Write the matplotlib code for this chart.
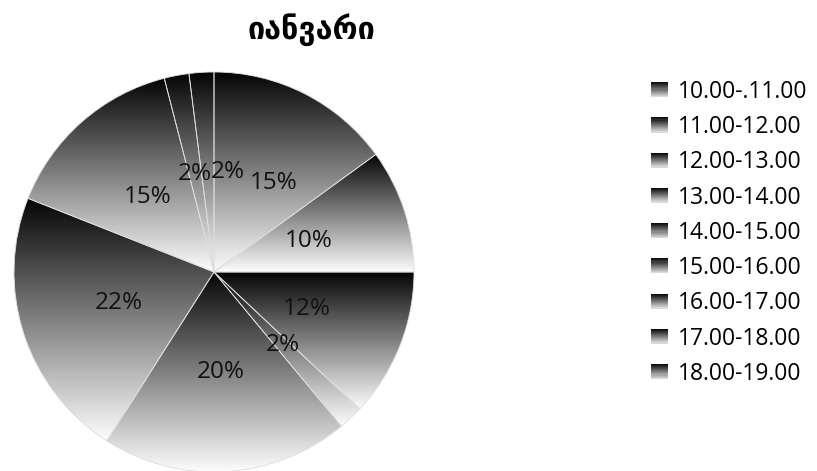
import matplotlib
matplotlib.use('Agg')
import matplotlib.pyplot as plt
import numpy as np
from matplotlib.patches import Rectangle, Wedge
from matplotlib.legend_handler import HandlerBase

plt.rcParams['font.family'] = ['Open Sans', 'DejaVu Sans']

# data
title = 'იანვარი'
labels = ['10.00-.11.00', '11.00-12.00', '12.00-13.00', '13.00-14.00', '14.00-15.00',
          '15.00-16.00', '16.00-17.00', '17.00-18.00', '18.00-19.00']
shares = [15, 10, 12, 2, 20, 22, 15, 2, 2]

W, H = 817, 471
grad = np.linspace(0.02, 0.99, 256).reshape(-1, 1)


class GradientHandler(HandlerBase):
    # legend key: small square shaded black (top) to light grey (bottom)
    def create_artists(self, legend, orig_handle, xdescent, ydescent, width, height, fontsize, trans):
        n = 14
        arts = []
        for i in range(n):
            g = 0.05 + 0.8 * i / (n - 1)
            r = Rectangle((-xdescent, -ydescent + height * (n - 1 - i) / n), width, height / n + 0.3,
                          facecolor=str(g), edgecolor='none', transform=trans)
            arts.append(r)
        return arts


fig = plt.figure(figsize=(W / 100, H / 100), dpi=100)
cx, cy, rad = 214, 272, 200
ax = fig.add_axes([(cx - rad) / W, (H - cy - rad) / H, 2 * rad / W, 2 * rad / H])

wedges, texts, autotexts = ax.pie(shares, startangle=90, counterclock=False,
                                  autopct=lambda p: '{:.0f}%'.format(p), pctdistance=0.5,
                                  wedgeprops=dict(edgecolor='#dddddd', linewidth=0.6),
                                  textprops=dict(fontsize=17.5, color='#111111'))

for w in wedges:
    w.set_facecolor('none')
    bb = w.get_path().get_extents()
    im = ax.imshow(grad, cmap='gray', vmin=0, vmax=1, origin='upper', aspect='auto',
                   extent=(bb.x0, bb.x1, bb.y0, bb.y1), interpolation='bilinear', zorder=0.5)
    im.set_clip_path(w)

# the small labels at the top would overlap; nudge them apart like the original
for i, dx in [(0, 0.07), (8, 0.10)]:
    x, y = autotexts[i].get_position()
    autotexts[i].set_position((x + dx, y))

ax.set_xlim(-1, 1)
ax.set_ylim(-1, 1)
ax.set_aspect('equal')
ax.axis('off')

fig.text(311 / W, 1 - 30 / H, title, ha='center', va='center', fontsize=22,
         fontweight='bold', family='DejaVu Sans')

fig.legend(wedges, labels, handler_map={Wedge: GradientHandler()}, loc='upper left',
           bbox_to_anchor=(651 / W, 1 - 80 / H), frameon=False, fontsize=16.5,
           borderpad=0, borderaxespad=0, labelspacing=0.49, handlelength=0.74,
           handleheight=0.61, handletextpad=0.44)

fig.savefig('out.png', dpi=100, facecolor='white')
